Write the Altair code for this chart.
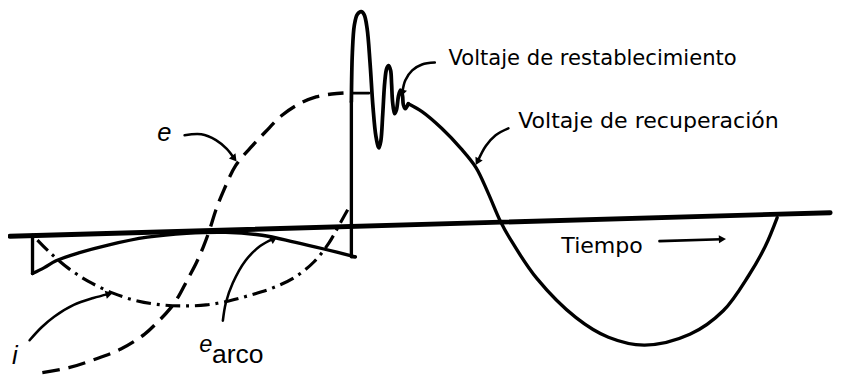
import math
import altair as alt
import pandas as pd

# ---- curve data (x = time position, y = level, both in picture units) ----
axis_x = [10, 846]
axis_y = [237, 213]

arc_left_x = [33, 33]
arc_left_y = [236, 275]
arc_x = [33, 45, 57, 80, 110, 150, 190, 230, 267, 300, 330, 362]
arc_y = [275, 269, 262, 254, 246, 238, 234, 233, 236, 243, 250, 258]
arc_right_x = [362, 358, 358]
arc_right_y = [258, 258, 100]

spike_x = [358, 359, 361, 364, 368, 371, 374, 377, 380, 383, 386, 388, 390, 392, 394, 396, 398,
           399, 400, 402, 404, 406, 408, 410, 411, 413, 416]
spike_y = [100, 50, 22, 11, 8, 11, 25, 60, 105, 135, 147, 140, 112, 80, 66, 63, 68,
           82, 100, 112, 108, 94, 88, 93, 103, 107, 102]

rec_x = [416, 430, 450, 470, 485, 497, 510, 520, 547, 587, 620, 657, 703, 737, 763, 780, 792]
rec_y = [102, 110, 127, 148, 167, 192, 222, 240, 280, 320, 340, 348, 337, 313, 277, 247, 218]

e_x = [43, 70, 95, 123, 147, 160, 173, 182, 190, 200, 207, 213, 220, 228, 240, 255, 270, 287,
       305, 322, 338, 350]
e_y = [376, 371, 363, 352, 337, 325, 311, 298, 283, 264, 248, 232, 210, 190, 165, 147, 131, 114,
       102, 95, 92, 91]
e_top_x = [358, 376]
e_top_y = [91, 91]

i_x = [38, 50, 70, 90, 115, 140, 165, 187, 210, 233, 255, 277, 300, 320, 335, 347, 357]
i_y = [241, 253, 270, 283, 295, 303, 307, 308, 307, 303, 297, 290, 279, 263, 244, 223, 205]

arrows = {
    "e": ([188, 205, 220, 231, 238], [134, 133, 139, 148, 157]),
    "i": ([30, 42, 55, 75, 95, 110], [343, 330, 319, 307, 300, 296]),
    "earco": ([227, 230, 237, 250, 265, 278], [323, 305, 285, 262, 247, 240]),
    "rest": ([443, 430, 420, 413, 410], [60, 62, 68, 78, 90]),
    "recu": ([518, 505, 495, 487], [127, 134, 145, 160]),
    "tiempo": ([672, 735], [242, 240]),
}

text_labels = ["Voltaje de restablecimiento", "Voltaje de recuperación", "Tiempo"]
text_x = [457, 528, 572]
text_y = [62, 127, 254]
text_size = [21.5, 22.5, 22.5]

sym_labels = ["e", "i", "e", "arco"]
sym_x = [160, 12, 203, 216]
sym_y = [140, 367, 355, 366]
sym_size = [26, 26, 24, 27]
sym_style = ["italic", "italic", "italic", "normal"]

# ---- scales: picture units straight onto the page ----
W, H = 846, 378
xs = alt.Scale(domain=[8, 8 + W], nice=False, zero=False)
ys = alt.Scale(domain=[8, 8 + H], nice=False, zero=False, reverse=True)


def frame(xv, yv):
    return pd.DataFrame({"x": xv, "y": yv, "idx": list(range(len(xv)))})


def line(xv, yv, width=3.4, dash=None, interp="catmull-rom"):
    kw = dict(color="black", strokeWidth=width, interpolate=interp, strokeCap="round",
              strokeJoin="round")
    if dash:
        kw["strokeDash"] = dash
        kw["strokeCap"] = "butt"
    return alt.Chart(frame(xv, yv)).mark_line(**kw).encode(
        x=alt.X("x:Q", scale=xs, axis=None),
        y=alt.Y("y:Q", scale=ys, axis=None),
        order="idx:Q",
    )


layers = [
    line(axis_x, axis_y, width=5, interp="linear"),
    line(arc_left_x, arc_left_y, width=3.4, interp="linear"),
    line(arc_x, arc_y, width=3.4),
    line(arc_right_x, arc_right_y, width=3.4, interp="linear"),
    line(spike_x, spike_y, width=3.8),
    line(rec_x, rec_y, width=3.4),
    line(e_x, e_y, width=3.4, dash=[18, 9]),
    line(e_top_x, e_top_y, width=2.8, interp="linear"),
    line(i_x, i_y, width=3.2, dash=[15, 6, 3, 6]),
]

heads = []
for name, (ax, ay) in arrows.items():
    layers.append(line(ax, ay, width=2.6, interp="catmull-rom" if len(ax) > 2 else "linear"))
    dx = ax[-1] - ax[-2]
    dy = ay[-1] - ay[-2]
    ang = math.degrees(math.atan2(dx, -dy)) % 360
    heads.append({"x": ax[-1], "y": ay[-1], "ang": ang})

layers.append(
    alt.Chart(pd.DataFrame(heads)).mark_point(shape="triangle", filled=True, color="black",
                                               size=70, opacity=1).encode(
        x=alt.X("x:Q", scale=xs, axis=None),
        y=alt.Y("y:Q", scale=ys, axis=None),
        angle=alt.Angle("ang:Q", scale=None),
    )
)

texts = pd.DataFrame({"x": text_x, "y": text_y, "t": text_labels, "s": text_size})
layers.append(
    alt.Chart(texts).mark_text(align="left", baseline="alphabetic", font="DejaVu Sans",
                               color="black").encode(
        x=alt.X("x:Q", scale=xs, axis=None),
        y=alt.Y("y:Q", scale=ys, axis=None),
        text="t:N",
        size=alt.Size("s:Q", scale=None, legend=None),
    )
)

syms = pd.DataFrame({"x": sym_x, "y": sym_y, "t": sym_labels, "s": sym_size, "st": sym_style})
for st in ["normal", "italic"]:
    layers.append(
        alt.Chart(syms[syms.st == st]).mark_text(
            align="left", baseline="alphabetic", font="Liberation Sans", fontStyle=st,
            color="black").encode(
            x=alt.X("x:Q", scale=xs, axis=None),
            y=alt.Y("y:Q", scale=ys, axis=None),
            text="t:N",
            size=alt.Size("s:Q", scale=None, legend=None),
        )
    )

chart = alt.layer(*layers).properties(
    width=W, height=H, padding=0, autosize=alt.AutoSizeParams(type="none"),
    background="white",
).configure_view(stroke=None)

chart.save("out.html", embed_options={"renderer": "svg", "actions": False})
